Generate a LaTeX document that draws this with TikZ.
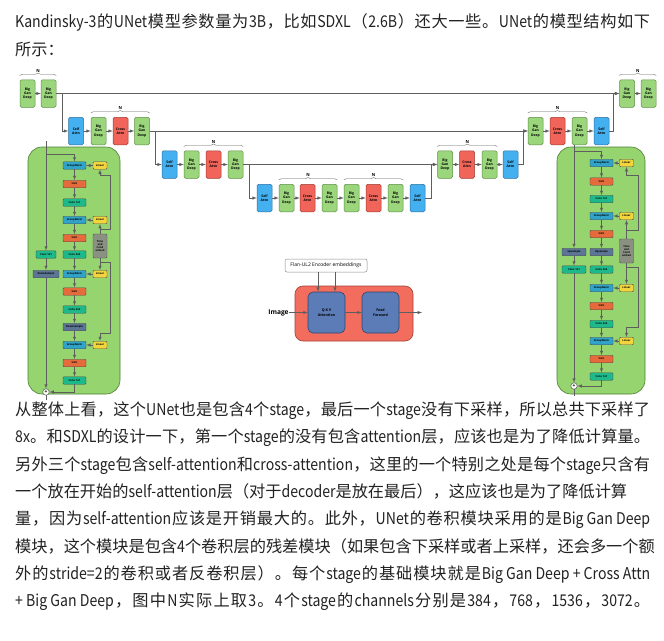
\documentclass[tikz,border=0pt]{standalone}
\usepackage{fontspec}
\setmainfont{Noto Sans CJK SC}
\newfontfamily\cjkfont{Noto Sans CJK SC}
\newfontfamily\latinfont{Noto Sans CJK SC}[FakeStretch=0.87]
\newfontfamily\labfont{Open Sans}
\usetikzlibrary{decorations.pathreplacing}
\tikzset{>=latex}
\tikzset{every text node part/.style={align=center}}

% CJK / Latin switching, with stretch between CJK characters
\chardef\cjkcls=9
\count255="3000
\loop\XeTeXcharclass\count255=\cjkcls\ifnum\count255<"303F\advance\count255 by 1\repeat
\count255="4E00
\loop\XeTeXcharclass\count255=\cjkcls\ifnum\count255<"9FFF\advance\count255 by 1\repeat
\count255="FF00
\loop\XeTeXcharclass\count255=\cjkcls\ifnum\count255<"FF60\advance\count255 by 1\repeat
\XeTeXinterchartokenstate=1
\XeTeXinterchartoks 0 \cjkcls = {\hskip 0pt plus 1fil\cjkfont}
\XeTeXinterchartoks \cjkcls 0 = {\hskip 0pt plus 1fil\latinfont}
\XeTeXinterchartoks \cjkcls \cjkcls = {\hskip 0pt plus 1fil}
\XeTeXinterchartoks 4095 \cjkcls = {\cjkfont}

\definecolor{textblack}{HTML}{222222}
\definecolor{linkgray}{HTML}{5E5E5E}
\definecolor{gangreen}{HTML}{9BD67D}
\definecolor{gangreenD}{HTML}{5E8E45}
\definecolor{selfblue}{HTML}{45B0F0}
\definecolor{selfblueD}{HTML}{2D6F9E}
\definecolor{crossred}{HTML}{F0645A}
\definecolor{crossredD}{HTML}{9E3A33}
\definecolor{panelgreen}{HTML}{95D46E}
\definecolor{panelgreenD}{HTML}{4E7D35}
\definecolor{gnblue}{HTML}{31A3C9}
\definecolor{linyellow}{HTML}{F2D43D}
\definecolor{siluorange}{HTML}{E56A3C}
\definecolor{convteal}{HTML}{1DB98A}
\definecolor{sampblue}{HTML}{5C7595}
\definecolor{tegray}{HTML}{8A9183}
\definecolor{legred}{HTML}{F36D5E}
\definecolor{legredD}{HTML}{A24038}
\definecolor{legblue}{HTML}{5B7CB6}
\definecolor{legblueD}{HTML}{2E4670}

\newcommand\fullline[1]{\makebox[635pt][s]{#1}}

\tikzset{
  blk/.style={draw, rounded corners=1.5pt, line width=0.5pt, minimum width=15pt,
    minimum height=27.5pt, inner sep=0pt, font=\labfont\bfseries\fontsize{3.4}{4.3}\selectfont},
  bgd/.style={blk, fill=gangreen, draw=gangreenD},
  sat/.style={blk, fill=selfblue, draw=selfblueD},
  cat/.style={blk, fill=crossred, draw=crossredD},
  lyr/.style={draw=black!70, rounded corners=1pt, line width=0.4pt, minimum width=23pt,
    minimum height=7.5pt, inner sep=0pt, font=\labfont\bfseries\fontsize{2.6}{3}\selectfont},
  gn/.style={lyr, fill=gnblue},
  silu/.style={lyr, fill=siluorange},
  conv/.style={lyr, fill=convteal},
  samp/.style={lyr, fill=sampblue},
  lin/.style={lyr, fill=linyellow, minimum width=14pt},
  temb/.style={lyr, fill=tegray, minimum width=14pt, minimum height=24pt},
  addc/.style={draw=black!75, fill=white, circle, line width=0.4pt, minimum size=6.5pt,
    inner sep=0pt, font=\labfont\bfseries\fontsize{5}{5}\selectfont},
  panel/.style={fill=panelgreen, draw=panelgreenD, line width=0.6pt, rounded corners=14pt},
  lnk/.style={draw=linkgray, line width=0.5pt},
  arr/.style={lnk, ->},
  brc/.style={draw=linkgray, line width=0.4pt, decorate, decoration={brace, amplitude=2.5pt}},
  nlab/.style={midway, above=3pt, inner sep=0pt, font=\labfont\bfseries\fontsize{4.2}{4.2}\selectfont},
  txt/.style={anchor=base west, inner sep=0pt, font=\latinfont\fontsize{16.2}{20}\selectfont, text=textblack},
}

\begin{document}
\begin{tikzpicture}[x=1pt, y=-1pt]

\useasboundingbox (0,0) rectangle (664,640);
\fill[white] (0,0) rectangle (664,640);

% Text above
\node[txt] (t1) at (15,27) {\fullline{Kandinsky-3的UNet模型参数量为3B，比如SDXL（2.6B）还大一些。UNet的模型结构如下}};
\node[txt] (t2) at (15,55.5) {所示：};

% Encoder
\node[bgd] (e1a) at (27.5,93.5) {Big\\Gan\\Deep};
\node[bgd] (e1b) at (48.5,93.5) {Big\\Gan\\Deep};

\node[sat] (e2s) at (76,131) {Self\\Attn};
\node[bgd] (e2a) at (98.5,131) {Big\\Gan\\Deep};
\node[cat] (e2x) at (120.5,131) {Cross\\Attn};
\node[bgd] (e2b) at (142,131) {Big\\Gan\\Deep};

\node[sat] (e3s) at (169.5,164.5) {Self\\Attn};
\node[bgd] (e3a) at (191.5,164.5) {Big\\Gan\\Deep};
\node[cat] (e3x) at (213.5,164.5) {Cross\\Attn};
\node[bgd] (e3b) at (235.5,164.5) {Big\\Gan\\Deep};

% Middle
\node[sat] (ms) at (264.5,198) {Self\\Attn};
\node[bgd] (ma) at (286.5,198) {Big\\Gan\\Deep};
\node[cat] (mx) at (307.5,198) {Cross\\Attn};
\node[bgd] (mb) at (329.5,198) {Big\\Gan\\Deep};
\node[bgd] (mc) at (351.5,198) {Big\\Gan\\Deep};
\node[cat] (my) at (373.5,198) {Cross\\Attn};
\node[bgd] (md) at (395.5,198) {Big\\Gan\\Deep};
\node[sat] (mt) at (417.5,198) {Self\\Attn};

% Decoder
\node[bgd] (d3a) at (445,164.5) {Big\\Gan\\Deep};
\node[cat] (d3x) at (467,164.5) {Cross\\Attn};
\node[bgd] (d3b) at (489.5,164.5) {Big\\Gan\\Deep};
\node[sat] (d3s) at (510.5,164.5) {Self\\Attn};

\node[bgd] (d2a) at (535.5,131) {Big\\Gan\\Deep};
\node[cat] (d2x) at (557.5,131) {Cross\\Attn};
\node[bgd] (d2b) at (579.5,131) {Big\\Gan\\Deep};
\node[sat] (d2s) at (601.5,131) {Self\\Attn};

\node[bgd] (d1a) at (627,93.5) {Big\\Gan\\Deep};
\node[bgd] (d1b) at (648.5,93.5) {Big\\Gan\\Deep};

\foreach \a/\b in {e1a/e1b, e2s/e2a, e2a/e2x, e2x/e2b, e3s/e3a, e3a/e3x, e3x/e3b,
                   ms/ma, ma/mx, mx/mb, mb/mc, mc/my, my/md, md/mt,
                   d3a/d3x, d3x/d3b, d3b/d3s, d2a/d2x, d2x/d2b, d2b/d2s, d1a/d1b,
                   e1b/d1a, e2b/d2a, e3b/d3a}
  \draw[arr] (\a) -- (\b);

\draw[arr] (e1b.east) -- ++(6,0) |- (e2s);
\draw[arr] (e2b.east) -- ++(5,0) |- (e3s);
\draw[arr] (e3b.east) -- ++(6,0) |- (ms);
\draw[arr] (mt.east) -- ++(6,0) |- (d3a);
\draw[arr] (d3s.east) -- ++(5,0) |- (d2a);
\draw[arr] (d2s.east) -- ++(4,0) |- (d1a);

% N braces
\foreach \a/\b in {e1a/e1b, d1a/d1b, e2a/e2b, d2a/d2b, e3a/e3b, d3a/d3b, ma/mb, mc/md}
  \draw[brc] ([yshift=4pt]\a.north west) -- ([yshift=4pt]\b.north east) node[nlab] {N};

% Left block (down)
\draw[panel] (28,147) rectangle (120,394);
\node[gn]   (lgn1) at (74.5,165.5) {GroupNorm};
\node[silu] (lsi1) at (74.5,184)   {SiLU};
\node[conv] (lcv1) at (74.5,202.5) {Conv 1x1};
\node[gn]   (lgn2) at (74.5,220)   {GroupNorm};
\node[silu] (lsi2) at (74.5,238)   {SiLU};
\node[conv] (lcv2) at (74.5,254.5) {Conv 3x3};
\node[gn]   (lgn3) at (74.5,274)   {GroupNorm};
\node[silu] (lsi3) at (74.5,291.5) {SiLU};
\node[conv] (lcv3) at (74.5,309.5) {Conv 3x3};
\node[samp] (lds)  at (74.5,327)   {DownSample};
\node[gn]   (lgn4) at (74.5,345)   {GroupNorm};
\node[silu] (lsi4) at (74.5,363)   {SiLU};
\node[conv] (lcv4) at (74.5,380.5) {Conv 1x1};
\foreach \i/\y in {1/165.5, 2/220, 3/274, 4/345}
  \node[lin] (ll\i) at (100,\y) {Linear};
\node[temb] (lte) at (100,246) {Time\\and\\Cond\\embed};
\node[conv, minimum width=20pt] (lsk) at (46,254.5) {Conv 1x1};
\node[samp, minimum width=26pt] (lsd) at (46,274) {DownSample};
\node[addc] (ladd) at (46,392) {+};
\coordinate (lin) at (46,141);
\coordinate (lsp) at (46,154);

\draw[arr] (lin) -- (lsk);
\draw[arr] (lsp) -| (lgn1);
\draw[arr] (lsk) -- (lsd);
\draw[arr] (lsd) -- (ladd);
\draw[arr] (lcv4) |- (ladd);
\draw[lnk] (ladd) -- ++(0,8);
\foreach \a/\b in {lgn1/lsi1, lsi1/lcv1, lcv1/lgn2, lgn2/lsi2, lsi2/lcv2, lcv2/lgn3,
                   lgn3/lsi3, lsi3/lcv3, lcv3/lds, lds/lgn4, lgn4/lsi4, lsi4/lcv4}
  \draw[arr] (\a) -- (\b);
\foreach \i in {1,...,4}
  \draw[arr] (ll\i) -- (lgn\i);
\draw[arr] (lte) -- (ll2);
\draw[arr] (lte) -- (ll3);
\draw[arr] (100,229) -- (110,229) -- (110,175) -- (100,175) -- (ll1);
\draw[arr] (100,262) -- (110,262) -- (110,333) -- (100,333) -- (ll4);

% Right block (up)
\draw[panel] (557,147) rectangle (645,394);
\node[gn]   (rgn1) at (601.5,163)   {GroupNorm};
\node[silu] (rsi1) at (601.5,181.5) {SiLU};
\node[conv] (rcv1) at (601.5,199)   {Conv 1x1};
\node[gn]   (rgn2) at (601.5,216)   {GroupNorm};
\node[silu] (rsi2) at (601.5,234)   {SiLU};
\node[samp] (rup)  at (601.5,252)   {Upsample};
\node[conv] (rcv2) at (601.5,269.5) {Conv 3x3};
\node[gn]   (rgn3) at (601.5,288)   {GroupNorm};
\node[silu] (rsi3) at (601.5,306)   {SiLU};
\node[conv] (rcv3) at (601.5,324)   {Conv 3x3};
\node[gn]   (rgn4) at (601.5,341)   {GroupNorm};
\node[silu] (rsi4) at (601.5,359)   {SiLU};
\node[conv] (rcv4) at (601.5,376.5) {Conv 1x1};
\foreach \i/\y in {1/163, 2/216, 3/288, 4/341}
  \node[lin] (rl\i) at (626.5,\y) {Linear};
\node[temb] (rte) at (626.5,251) {Time\\and\\Cond\\embed};
\node[samp, minimum width=24pt] (rus) at (574,252) {Upsample};
\node[conv, minimum width=24pt] (rsk) at (574,269.5) {Conv 1x1};
\node[addc] (radd) at (574,386) {+};
\coordinate (rin) at (574,145);
\coordinate (rsp) at (574,151);

\draw[arr] (rin) -- (rus);
\draw[arr] (rsp) -| (rgn1);
\draw[arr] (rus) -- (rsk);
\draw[arr] (rsk) -- (radd);
\draw[arr] (rcv4) |- (radd);
\draw[lnk] (radd) -- ++(0,10);
\foreach \a/\b in {rgn1/rsi1, rsi1/rcv1, rcv1/rgn2, rgn2/rsi2, rsi2/rup, rup/rcv2,
                   rcv2/rgn3, rgn3/rsi3, rsi3/rcv3, rcv3/rgn4, rgn4/rsi4, rsi4/rcv4}
  \draw[arr] (\a) -- (\b);
\foreach \i in {1,...,4}
  \draw[arr] (rl\i) -- (rgn\i);
\draw[arr] (rte) -- (rl2);
\draw[arr] (rte) -- (rl3);
\draw[arr] (626.5,230) -- (638,230) -- (638,175) -- (626.5,175) -- (rl1);
\draw[arr] (626.5,267) -- (638,267) -- (638,327) -- (626.5,327) -- (rl4);

% Cross Attn block
\node[draw=black!45, fill=white, rounded corners=2pt, line width=0.5pt, minimum width=82pt,
  minimum height=13pt, inner sep=0pt, font=\labfont\fontsize{5}{5}\selectfont]
  (flan) at (326,265.5) {Flan-UL2 Encoder embeddings};
\draw[fill=legred, draw=legredD, line width=0.6pt, rounded corners=8pt] (295,286) rectangle (413,341);
\node[fill=legblue, draw=legblueD, line width=0.6pt, rounded corners=5pt, minimum width=37pt,
  minimum height=41pt, inner sep=0pt, font=\labfont\bfseries\fontsize{3.6}{4.6}\selectfont]
  (qkv) at (326.5,312.5) {Q K V\\Attention};
\node[fill=legblue, draw=legblueD, line width=0.6pt, rounded corners=5pt, minimum width=37pt,
  minimum height=41pt, inner sep=0pt, font=\labfont\bfseries\fontsize{3.6}{4.6}\selectfont]
  (ff) at (380.5,312.5) {Feed\\Forward};
\node[inner sep=0pt, font=\labfont\bfseries\fontsize{6.6}{7}\selectfont] (img) at (278.5,312.5) {Image};
\coordinate (out) at (422,312.5);

\draw[arr] (img) -- (qkv);
\draw[arr] (qkv) -- (ff);
\draw[arr] (ff) -- (out);
\draw[arr] ([xshift=-8.5pt]qkv.north |- flan.south) -- ([xshift=-8.5pt]qkv.north);
\draw[arr] ([xshift=8.5pt]qkv.north |- flan.south) -- ([xshift=8.5pt]qkv.north);

% Text below
\node[txt] (b1) at (15,415.5) {\fullline{从整体上看，这个UNet也是包含4个stage，最后一个stage没有下采样，所以总共下采样了}};
\node[txt] (b2) at (15,442.8) {\fullline{8x。和SDXL的设计一下，第一个stage的没有包含attention层，应该也是为了降低计算量。}};
\node[txt] (b3) at (15,470.1) {\fullline{另外三个stage包含self-attention和cross-attention，这里的一个特别之处是每个stage只含有}};
\node[txt] (b4) at (15,497.4) {一个放在开始的self-attention层（对于decoder是放在最后），这应该也是为了降低计算};
\node[txt] (b5) at (15,524.7) {\fullline{量，因为self-attention应该是开销最大的。此外，UNet的卷积模块采用的是Big Gan Deep}};
\node[txt] (b6) at (15,552)   {\fullline{模块，这个模块是包含4个卷积层的残差模块（如果包含下采样或者上采样，还会多一个额}};
\node[txt] (b7) at (15,579.3) {\fullline{外的stride=2的卷积或者反卷积层）。每个stage的基础模块就是Big Gan Deep + Cross Attn}};
\node[txt] (b8) at (15,606.6) {\fullline{+ Big Gan Deep，图中N实际上取3。4个stage的channels分别是384，768，1536，3072。}};

\end{tikzpicture}
\end{document}
